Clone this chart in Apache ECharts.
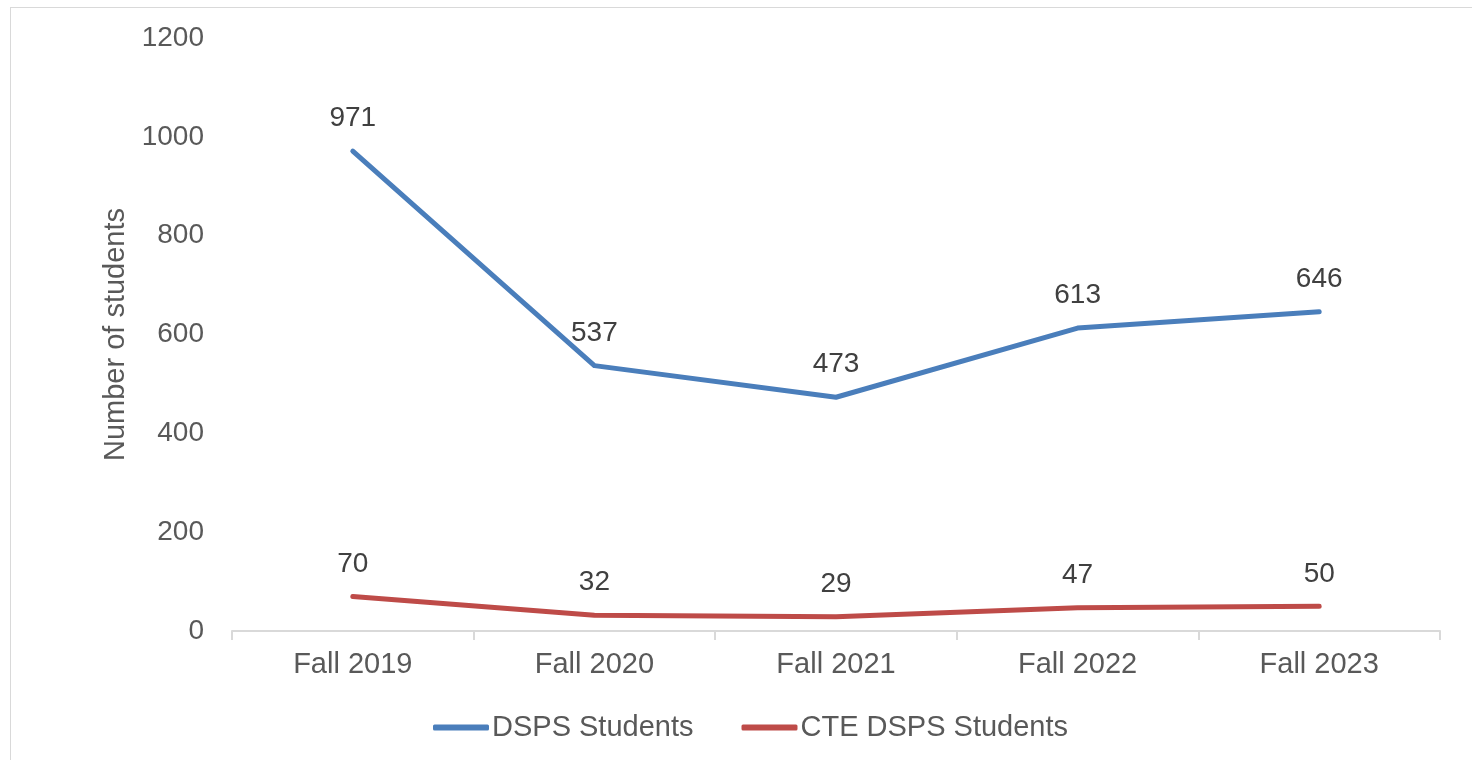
<!DOCTYPE html>
<html>
<head>
<meta charset="utf-8">
<script src="https://cdn.jsdelivr.net/npm/echarts@6/dist/echarts.min.js"></script>
<style>
  html, body { margin: 0; padding: 0; background: #fff; }
  #frame { position: absolute; left: 10px; top: 7px; width: 1470px; height: 760px; border: 1px solid #d9d9d9; box-sizing: border-box; }
  #chart { position: absolute; left: 0; top: 0; width: 1472px; height: 760px; }
</style>
</head>
<body>
<div id="frame"></div>
<div id="chart"></div>
<script>
var categories = ['Fall 2019', 'Fall 2020', 'Fall 2021', 'Fall 2022', 'Fall 2023'];
var dspsStudents = [971, 537, 473, 613, 646];
var cteDspsStudents = [70, 32, 29, 47, 50];

var font = 'Liberation Sans, Arial, sans-serif';
var blue = '#4a7ebb';
var red = '#be4b48';

var myChart = echarts.init(document.getElementById('chart'));

var option = {
    animation: false,
    textStyle: { fontFamily: font },
    grid: { left: 232, right: 32, top: 38, bottom: 129 },
    legend: {
        top: 708,
        left: 428,
        icon: 'roundRect',
        itemWidth: 56,
        itemHeight: 6,
        itemGap: 48,
        textStyle: { fontSize: 29, color: '#595959', fontFamily: font, padding: [0, 0, 0, -2] },
        data: [
            { name: 'DSPS Students', itemStyle: { color: blue, opacity: 1 } },
            { name: 'CTE DSPS Students', itemStyle: { color: red, opacity: 1 } }
        ]
    },
    xAxis: {
        type: 'category',
        data: categories,
        boundaryGap: true,
        axisLine: { lineStyle: { color: '#d9d9d9', width: 2 } },
        axisTick: { show: true, length: 9, lineStyle: { color: '#d9d9d9', width: 2 } },
        axisLabel: { fontSize: 29, color: '#595959', margin: 19, fontFamily: font }
    },
    yAxis: {
        type: 'value',
        min: 0,
        max: 1200,
        interval: 200,
        name: 'Number of students',
        nameLocation: 'middle',
        nameGap: 98,
        nameTextStyle: { fontSize: 29, color: '#595959', fontFamily: font },
        axisLine: { show: false },
        axisTick: { show: false },
        splitLine: { show: false },
        axisLabel: {
            fontSize: 28, color: '#595959', margin: 28, fontFamily: font,
            formatter: function (v) { return String(v); }
        }
    },
    series: [
        {
            name: 'DSPS Students',
            type: 'line',
            data: dspsStudents,
            symbol: 'circle',
            symbolSize: 1,
            itemStyle: { color: 'rgba(0,0,0,0)', borderWidth: 0 },
            lineStyle: { width: 5, color: blue, cap: 'round', join: 'round' },
            label: { show: true, position: 'top', distance: 18, fontSize: 28, color: '#404040', fontFamily: font }
        },
        {
            name: 'CTE DSPS Students',
            type: 'line',
            data: cteDspsStudents,
            symbol: 'circle',
            symbolSize: 1,
            itemStyle: { color: 'rgba(0,0,0,0)', borderWidth: 0 },
            lineStyle: { width: 5, color: red, cap: 'round', join: 'round' },
            label: { show: true, position: 'top', distance: 18, fontSize: 28, color: '#404040', fontFamily: font }
        }
    ]
};

myChart.setOption(option);
</script>
</body>
</html>
